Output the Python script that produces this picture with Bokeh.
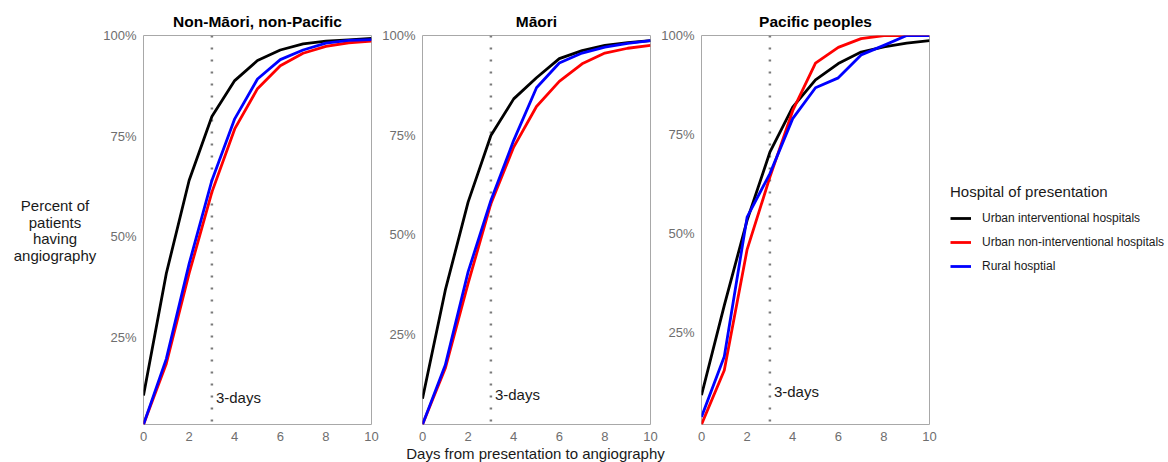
from bokeh.plotting import figure
from bokeh.layouts import row, column
from bokeh.models import Range1d, Span, Legend, LegendItem, FixedTicker, PrintfTickFormatter
from bokeh.core.properties import value
from bokeh.embed import file_html
from bokeh.resources import INLINE

FONT = "Liberation Sans"

days = list(range(11))

groups = ["Non-Māori, non-Pacific", "Māori", "Pacific peoples"]
hospital_types = [
    "Urban interventional hospitals",
    "Urban non-interventional hospitals",
    "Rural hosptial",
]
line_colors = ["black", "red", "blue"]

# Cumulative percent of patients having angiography, by day since presentation
nonmaori_urban_int = [10.6, 40.9, 64.0, 79.9, 88.8, 93.8, 96.4, 97.9, 98.6, 98.9, 99.3]
nonmaori_urban_nonint = [3.4, 18.5, 40.9, 61.1, 76.8, 86.8, 92.5, 95.6, 97.3, 98.2, 98.6]
nonmaori_rural = [3.4, 19.7, 43.3, 64.0, 79.3, 89.2, 94.0, 96.4, 98.1, 98.8, 99.0]

maori_urban_int = [8.9, 36.1, 58.2, 74.9, 84.1, 89.4, 94.2, 96.2, 97.5, 98.2, 98.7]
maori_urban_nonint = [2.4, 16.5, 37.8, 57.8, 72.0, 82.2, 88.5, 92.9, 95.6, 96.8, 97.5]
maori_rural = [2.4, 17.3, 40.7, 58.6, 73.7, 86.9, 93.1, 95.6, 97.1, 98.0, 98.7]

pacific_urban_int = [9.1, 31.8, 53.3, 70.5, 81.9, 88.8, 92.9, 95.8, 97.1, 98.1, 98.7]
pacific_urban_nonint = [1.7, 15.4, 45.9, 64.2, 81.0, 93.0, 97.0, 99.2, 100.0, 100.0, 100.0]
pacific_rural = [3.6, 18.9, 54.1, 65.1, 79.0, 86.8, 89.3, 95.1, 97.5, 100.0, 100.0]

panel_series = [
    [nonmaori_urban_int, nonmaori_urban_nonint, nonmaori_rural],
    [maori_urban_int, maori_urban_nonint, maori_rural],
    [pacific_urban_int, pacific_urban_nonint, pacific_rural],
]

x_ticks = [0, 2, 4, 6, 8, 10]
y_ticks = [25, 50, 75, 100]
cutoff_day = 3
cutoff_label = "3-days"
x_title = "Days from presentation to angiography"
y_title_lines = ["Percent of", "patients", "having", "angiography"]
legend_title = "Hospital of presentation"

PAGE_W, PAGE_H = 1168, 462
FRAME_W, FRAME_H = 228, 389
TOP, BOTTOM = 35, 22
LEFT, RIGHT = 42, 8
ROW_H = TOP + FRAME_H + BOTTOM
STRIP_H = PAGE_H - ROW_H


def blank_figure(**kw):
    p = figure(title=None, toolbar_location=None, output_backend="svg",
               outline_line_color=None, background_fill_color="white",
               border_fill_color="white", **kw)
    p.axis.visible = False
    p.grid.visible = False
    return p


def make_panel(title, series):
    ymin = min(min(s) for s in series)
    p = figure(
        frame_width=FRAME_W, frame_height=FRAME_H,
        x_range=Range1d(0, 10), y_range=Range1d(ymin, 100),
        min_border_left=LEFT, min_border_right=RIGHT,
        min_border_top=TOP, min_border_bottom=BOTTOM,
        toolbar_location=None, output_backend="svg",
        background_fill_color="white", border_fill_color="white",
        outline_line_color="#a8a8a8", outline_line_width=1,
    )
    p.title.text = title
    p.title.align = "center"
    p.title.text_font = FONT
    p.title.text_font_size = "15.5px"
    p.title.text_font_style = "bold"
    p.title.text_color = "black"
    p.title.standoff = 11

    p.grid.visible = False
    for ax in (p.xaxis[0], p.yaxis[0]):
        ax.axis_line_color = None
        ax.major_tick_line_color = None
        ax.minor_tick_line_color = None
        ax.major_tick_out = 0
        ax.major_tick_in = 0
        ax.major_label_text_font = FONT
        ax.major_label_text_font_size = "13px"
        ax.major_label_text_color = "#6e6e6e"
        ax.major_label_text_line_height = 1.0
    p.xaxis.ticker = FixedTicker(ticks=x_ticks)
    p.yaxis.ticker = FixedTicker(ticks=y_ticks)
    p.yaxis.formatter = PrintfTickFormatter(format="%d%%")
    p.xaxis.major_label_standoff = 7
    p.yaxis.major_label_standoff = 7

    p.add_layout(Span(location=cutoff_day, dimension="height", line_color="#7a7a7a",
                      line_width=2.5, line_dash="2 10", level="underlay"))

    for s, c in zip(series, line_colors):
        p.line(days, s, line_color=c, line_width=2.8, line_join="round")

    p.text(x=[cutoff_day], y=[10], text=[cutoff_label], x_offset=4,
           text_baseline="middle", text_align="left",
           text_font=value(FONT), text_font_size=value("15px"), text_color="#1a1a1a")
    return p


panels = [make_panel(g, s) for g, s in zip(groups, panel_series)]

# left column holding the shared y-axis title (pixel coordinates of the row)
ylab_w = 100
ylab = blank_figure(frame_width=ylab_w, frame_height=FRAME_H,
                    min_border_left=0, min_border_right=0,
                    min_border_top=TOP, min_border_bottom=BOTTOM,
                    x_range=Range1d(0, ylab_w), y_range=Range1d(TOP + FRAME_H, TOP))
ylab.text(x=[54.5] * 4, y=[205, 221.7, 238.3, 255], text=y_title_lines,
          text_align="center", text_baseline="middle",
          text_font=value(FONT), text_font_size=value("15px"), text_color="#1a1a1a")

# right column holding the legend; its lines sit outside the visible range,
# so only their legend swatches show
leg_w = PAGE_W - ylab_w - 3 * (LEFT + FRAME_W + RIGHT)
legfig = blank_figure(frame_width=leg_w, frame_height=FRAME_H,
                      min_border_left=0, min_border_right=0,
                      min_border_top=TOP, min_border_bottom=BOTTOM,
                      x_range=Range1d(-20, -19), y_range=Range1d(0, 1))
items = []
for name, s, c in zip(hospital_types, panel_series[0], line_colors):
    r = legfig.line(days, s, line_color=c, line_width=2.8)
    items.append(LegendItem(label=name, renderers=[r]))
legend = Legend(items=items, location=(13, 148), title=legend_title,
                title_text_font=FONT, title_text_font_size="15px", title_text_font_style="normal",
                title_text_color="#1a1a1a", title_standoff=8,
                label_text_font=FONT, label_text_font_size="12px", label_text_color="#1a1a1a",
                glyph_width=21, glyph_height=20, label_height=20, label_standoff=11,
                spacing=4, padding=6, border_line_color=None, background_fill_alpha=0)
legfig.add_layout(legend)

# strip under the panels carrying the shared x-axis title
strip = blank_figure(frame_width=PAGE_W, frame_height=STRIP_H, min_border=0,
                     x_range=Range1d(0, PAGE_W), y_range=Range1d(PAGE_H, ROW_H))
strip.text(x=[535], y=[452.5], text=[x_title], text_align="center", text_baseline="middle",
           text_font=value(FONT), text_font_size=value("15px"), text_color="#1a1a1a")

layout = column(row(ylab, *panels, legfig, spacing=0), strip, spacing=0)

open("out.html", "w").write(file_html(layout, INLINE))
